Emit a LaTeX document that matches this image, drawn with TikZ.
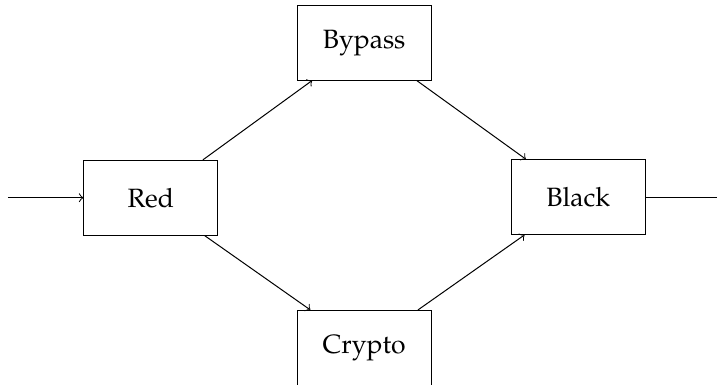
\documentclass[tikz,border=0pt]{standalone}
\usepackage[T1]{fontenc}
\usepackage{mathpazo}
\usepackage{tikz}

\tikzset{
	block/.style={draw, minimum width=1.88cm, minimum height=1.05cm,
		font=\fontsize{10.6}{12.7}\selectfont}
}

\begin{document}
\begin{tikzpicture}
		\useasboundingbox (0,0) rectangle (10.08,5.41);
		%boxes
		\node (red) at(2.12,2.63) [block]{Red};
		\node (bypass) at(5.12,4.81) [block]{Bypass};
		\node (black) at(8.13,2.64) [block]{Black};
		\node (crypto) at(5.12,0.52) [block]{Crypto};
		%ends
		\coordinate (in) at(0.11,2.63);
		\coordinate (out) at(10.08,2.64);
		%input
		\draw [->] (in) -- (red);
		%two paths
		\draw [->] (red) -- (bypass);
		\draw [->] (red) -- (crypto);
		\draw [->] (bypass) -- (black);
		\draw [->] (crypto) -- (black);
		%output
		\draw (black) -- (out);
	\end{tikzpicture}
\end{document}
